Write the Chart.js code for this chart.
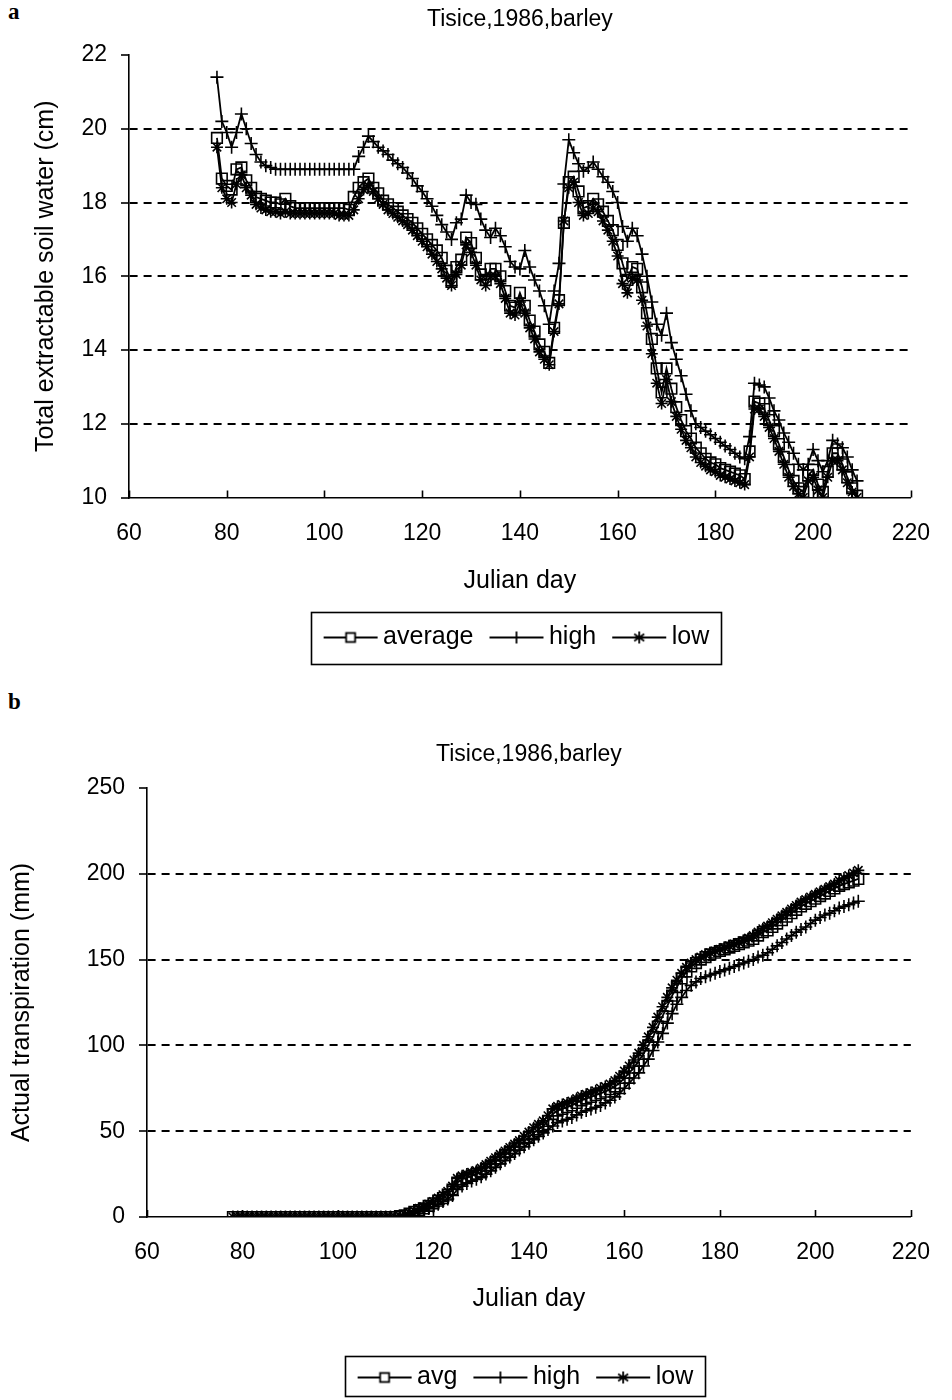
<!DOCTYPE html>
<html><head><meta charset="utf-8">
<script src="https://cdn.jsdelivr.net/npm/chart.js@4.4.0/dist/chart.umd.min.js"></script>
<style>
html,body{margin:0;padding:0;background:#fff;overflow:hidden;width:952px;height:1400px;}
#wrap{position:relative;width:952px;height:1400px;}
canvas{position:absolute;left:0;}
.panel{position:absolute;font-family:"Liberation Serif","DejaVu Serif",serif;font-weight:bold;font-size:23px;line-height:23px;color:#000;}
</style></head><body>
<div id="wrap">
<div class="panel" style="left:8px;top:0px">a</div>
<canvas id="ca" width="952" height="672" style="top:0px"></canvas>
<div class="panel" style="left:8px;top:690px">b</div>
<canvas id="cb" width="952" height="710" style="top:690px"></canvas>
</div>
<script>
const TITLE = 'Tisice,1986,barley';
const X_TITLE = 'Julian day';
const A_Y_TITLE = 'Total extractable soil water (cm)';
const B_Y_TITLE = 'Actual transpiration (mm)';
const A_LABELS = ['average', 'high', 'low'];
const B_LABELS = ['avg', 'high', 'low'];
const X_TICKS = [60, 80, 100, 120, 140, 160, 180, 200, 220];
const A_Y_TICKS = [10, 12, 14, 16, 18, 20, 22];
const B_Y_TICKS = [0, 50, 100, 150, 200, 250];

const DAYS = [78,79,80,81,82,83,84,85,86,87,88,89,90,91,92,93,94,95,96,97,98,99,100,101,102,103,104,105,106,107,
108,109,110,111,112,113,114,115,116,117,118,119,120,121,122,123,124,125,126,127,128,129,130,131,132,133,134,135,136,137,
138,139,140,141,142,143,144,145,146,147,148,149,150,151,152,153,154,155,156,157,158,159,160,161,162,163,164,165,166,167,
168,169,170,171,172,173,174,175,176,177,178,179,180,181,182,183,184,185,186,187,188,189,190,191,192,193,194,195,196,197,
198,199,200,201,202,203,204,205,206,207,208,209];

// Panel a: total extractable soil water (cm)
const A_AVG = [
19.75,18.65,18.45,18.35,18.9,18.95,18.6,18.4,18.15,18.1,
18.05,18.0,18.0,17.95,18.1,17.9,17.85,17.85,17.85,17.85,
17.85,17.85,17.85,17.85,17.85,17.85,17.85,17.8,18.15,18.4,
18.55,18.65,18.4,18.25,18.05,17.95,17.85,17.75,17.65,17.55,
17.45,17.3,17.15,17.0,16.85,16.7,16.5,16.15,15.85,16.25,
16.45,17.05,16.9,16.5,16.05,15.9,16.2,16.2,16.0,15.6,
15.2,15.15,15.55,15.2,14.8,14.5,14.15,13.95,13.65,14.6,
15.35,17.45,18.55,18.7,18.3,17.85,17.9,18.1,17.95,17.75,
17.5,17.25,16.85,16.35,15.9,16.25,16.2,15.7,15.0,14.3,
13.5,12.85,13.5,12.95,12.45,12.1,11.8,11.6,11.35,11.2,
11.05,10.95,10.9,10.8,10.75,10.7,10.65,10.6,10.5,11.25,
12.6,12.55,12.4,12.1,11.8,11.45,11.1,10.75,10.45,10.25,
10.15,10.6,10.75,10.35,10.15,10.7,11.2,11.2,10.9,10.55,
10.25,10.05];
const A_HIGH = [
21.4,20.2,19.9,19.5,19.9,20.4,20.0,19.6,19.3,19.1,
19.0,18.95,18.9,18.9,18.9,18.9,18.9,18.9,18.9,18.9,
18.9,18.9,18.9,18.9,18.9,18.9,18.9,18.9,18.9,19.25,
19.5,19.8,19.65,19.5,19.4,19.3,19.15,19.05,18.95,18.8,
18.65,18.45,18.3,18.1,17.9,17.65,17.4,17.2,17.0,17.45,
17.55,18.2,18.0,17.95,17.55,17.25,17.05,17.3,17.1,16.8,
16.4,16.25,16.2,16.7,16.25,15.9,15.6,15.2,14.7,15.6,
16.35,18.5,19.7,19.35,19.05,18.85,18.95,19.1,18.9,18.7,
18.55,18.3,18.0,17.35,16.95,17.3,17.1,16.6,16.0,15.3,
14.7,14.4,15.0,14.2,13.75,13.3,12.8,12.35,12.0,11.9,
11.8,11.7,11.6,11.5,11.4,11.3,11.2,11.1,11.05,11.65,
13.1,13.05,13.0,12.7,12.35,12.1,11.75,11.5,11.2,10.9,
10.75,10.9,11.3,11.0,10.7,11.0,11.55,11.45,11.35,11.1,
10.75,10.45];
const A_LOW = [
19.5,18.4,18.1,18.0,18.5,18.75,18.4,18.2,17.95,17.85,
17.8,17.75,17.75,17.7,17.75,17.7,17.7,17.7,17.7,17.7,
17.7,17.7,17.7,17.7,17.7,17.65,17.65,17.65,17.8,18.1,
18.35,18.45,18.3,18.1,17.95,17.8,17.7,17.6,17.5,17.4,
17.25,17.1,16.95,16.8,16.6,16.4,16.2,15.95,15.75,16.05,
16.3,16.85,16.65,16.3,15.9,15.75,16.0,16.0,15.8,15.4,
15.0,14.95,15.3,15.0,14.6,14.3,13.95,13.75,13.6,14.5,
15.25,17.5,18.4,18.55,18.0,17.65,17.7,17.85,17.75,17.5,
17.25,16.95,16.55,15.8,15.55,15.95,15.9,15.35,14.65,13.9,
13.1,12.55,13.2,12.6,12.2,11.85,11.55,11.35,11.1,10.95,
10.85,10.75,10.7,10.6,10.55,10.5,10.45,10.4,10.35,11.1,
12.4,12.4,12.2,11.9,11.6,11.25,10.9,10.55,10.3,10.1,
10.0,10.45,10.55,10.2,10.0,10.55,11.0,11.0,10.75,10.4,
10.15,10.0];

// Panel b: actual transpiration (mm)
const B_AVG = [
0,0,0,0,0,0,0,0,0,0,
0,0,0,0,0,0,0,0,0,0,
0,0,0,0,0,0,0,0,0,0,
0,0,0,0,0,0.5,1,2,3,4,
5,6.5,8,9.5,11,13,16,20,22,23,
24,25,26,28,30,32,34,36,38,40,
42,44,46.5,49,51,53,56,60,62,63,
64,65,66.5,68,69,70,71,72,73,74.5,
76,78,81,84,87,91,95,100,105,111,
117,123,129,134,139,143,146,148,150,151.5,
153,154,155,156,157,158,159,160,161,162,
164,166,167,169,171,173,175,177,179,181,
182.5,184,185.5,187,188.5,190,191.5,193,194,195,
196,197];
const B_HIGH = [
0,0,0,0,0,0,0,0,0,0,
0,0,0,0,0,0,0,0,0,0,
0,0,0,0,0,0,0,0,0,0,
0,0,0,0,0,0,0.5,1,2,3,
4,5,6,7.5,9,10.5,12.5,16,18,19.5,
21,22,23.5,25,27,29,31,33,35,37,
39,41,43,45,47,49,51,53,55,56,
57,58,59.5,61,62,63,64,65,66.5,68,
70,72,75,78,81,84,88,92,97,102,
107,113,118.5,124,128,132,135,137,139,140,
141,142,143,144,145,146,147,148,149,150,
151.5,152.5,154,156,158,160,162,164,166,167.5,
169,171,173,174.5,176,177,178.5,180,181,182,
183,184];
const B_LOW = [
0,0,0,0,0,0,0,0,0,0,
0,0,0,0,0,0,0,0,0,0,
0,0,0,0,0,0,0,0,0,0,
0,0,0,0,0,0.5,1.5,2.5,3.5,5,
6,7.5,9,11,13,15,18,22.5,24,25,
26,27,28.5,30.5,32.5,34.5,36.5,38.5,40.5,42.5,
44.5,47,49.5,52,54,56,59,63,64.5,65.5,
66.5,67.5,69,70.5,71.5,72.5,73.5,75,76,77.5,
79.5,82,85,88,91.5,95.5,100,105,110.5,116.5,
122.5,128,133.5,138,142,145.5,148,150,151.5,153,
154,155,156,157,158,159,160,161,162.5,164,
166,168,169.5,171.5,173.5,175.5,177.5,179.5,181.5,183.5,
185,186.5,188,189.5,191,192.5,194,196,197.5,199,
200.5,202];

const FONT = '"Liberation Sans", Arial, Helvetica, sans-serif';
Chart.defaults.font.family = FONT;
Chart.defaults.color = '#000';

const STYLES = ['rect', 'cross', 'star'];
const RADII = [7.5, 6.5, 6];

function legendIcon(style) {
  const c = document.createElement('canvas');
  c.width = 56; c.height = 18;
  const g = c.getContext('2d');
  g.strokeStyle = '#000'; g.lineWidth = 1.8;
  g.beginPath(); g.moveTo(1, 9); g.lineTo(55, 9); g.stroke();
  const cx = 28, cy = 9;
  g.beginPath();
  if (style === 'rect') {
    g.fillStyle = '#fff';
    g.fillRect(cx - 4.5, cy - 4.5, 9, 9);
    g.strokeRect(cx - 4.5, cy - 4.5, 9, 9);
  } else if (style === 'cross') {
    g.moveTo(cx, cy - 6); g.lineTo(cx, cy + 6); g.stroke();
  } else {
    g.moveTo(cx, cy - 6); g.lineTo(cx, cy + 6);
    g.moveTo(cx - 5, cy - 3.5); g.lineTo(cx + 5, cy + 3.5);
    g.moveTo(cx - 5, cy + 3.5); g.lineTo(cx + 5, cy - 3.5);
    g.stroke();
  }
  return c;
}
const ICONS = STYLES.map(legendIcon);

const upTicks = {
  id: 'upTicks',
  afterDraw(chart) {
    const sx = chart.scales.x, ctx = chart.ctx, b = chart.chartArea.bottom;
    ctx.save(); ctx.strokeStyle = '#000'; ctx.lineWidth = 1.6;
    X_TICKS.forEach(v => {
      const p = Math.round(sx.getPixelForValue(v)) + 0.5;
      ctx.beginPath(); ctx.moveTo(p, b); ctx.lineTo(p, b - 7); ctx.stroke();
    });
    ctx.restore();
  }
};

const legendFrame = {
  id: 'legendFrame',
  afterDraw(chart, args, opts) {
    const hb = chart.legend && chart.legend.legendHitBoxes;
    if (!hb || !hb.length) return;
    const first = hb[0], last = hb[hb.length - 1];
    const cy = first.top + first.height / 2;
    const l = first.left - 20, r = last.left + last.width + 11;
    const t = cy - opts.up, bt = cy + opts.down;
    const ctx = chart.ctx;
    ctx.save(); ctx.strokeStyle = '#000'; ctx.lineWidth = 1.6;
    ctx.strokeRect(Math.round(l) + 0.5, Math.round(t) + 0.5, Math.round(r - l), Math.round(bt - t));
    ctx.restore();
  }
};

function ds(label, values, i) {
  return {
    label: label,
    data: DAYS.map((d, k) => ({x: d, y: values[k]})),
    borderColor: '#000',
    borderWidth: 1.8,
    backgroundColor: 'rgba(0,0,0,0)',
    pointStyle: STYLES[i],
    pointRadius: RADII[i],
    pointBorderWidth: 1.6,
    pointBorderColor: '#000',
    pointBackgroundColor: 'rgba(0,0,0,0)',
    tension: 0,
    fill: false
  };
}

function build(id, o) {
  return new Chart(document.getElementById(id), {
    type: 'line',
    data: { datasets: [ds(o.labels[0], o.avg, 0), ds(o.labels[1], o.high, 1), ds(o.labels[2], o.low, 2)] },
    options: {
      responsive: false, animation: false, devicePixelRatio: 1,
      events: [],
      layout: { padding: { left: 0, right: 30, top: 0, bottom: o.padBottom } },
      plugins: {
        title: { display: true, text: TITLE, fullSize: false, color: '#000',
                 font: { family: FONT, size: 23, weight: 'normal' },
                 padding: { top: o.tTop, bottom: o.tBottom } },
        legend: { position: 'bottom', fullSize: false,
                  labels: { usePointStyle: true, pointStyleWidth: 40, padding: 23, color: '#000',
                            font: { family: FONT, size: 25 },
                            generateLabels: chart => chart.data.datasets.map((d, i) => ({
                              text: d.label, pointStyle: ICONS[i], fillStyle: '#000', strokeStyle: '#000',
                              lineWidth: 0, hidden: false, datasetIndex: i, fontColor: '#000' })) } },
        tooltip: { enabled: false },
        legendFrame: { up: o.fUp, down: o.fDown }
      },
      scales: {
        x: {
          type: 'linear', min: 60, max: 220,
          afterBuildTicks: s => { s.ticks = X_TICKS.map(v => ({ value: v })); },
          afterFit: s => { s.height = o.xH; },
          grid: { display: true, drawOnChartArea: false, drawTicks: false },
          border: { display: true, color: '#000', width: 1.6 },
          ticks: { padding: 22, color: '#000', font: { size: 23 }, maxRotation: 0, autoSkip: false },
          title: { display: true, text: X_TITLE, color: '#000', font: { size: 25 },
                   padding: { top: 0, bottom: o.xTitlePad } }
        },
        y: {
          type: 'linear', min: o.yMin, max: o.yMax,
          afterBuildTicks: s => { s.ticks = o.yTicks.map(v => ({ value: v })); },
          afterFit: s => { s.width = o.yW; },
          grid: {
            color: c => (c.tick && (c.tick.value === o.yMin || c.tick.value === o.yMax)) ? 'rgba(0,0,0,0)' : '#000',
            lineWidth: 2, tickLength: 8, tickColor: '#000', tickWidth: 1.6, tickBorderDash: []
          },
          border: { display: true, color: '#000', width: 1.6, dash: [8, 6] },
          ticks: { padding: 14, color: '#000', font: { size: 23 } },
          title: { display: true, text: o.yTitle, color: '#000', font: { size: 25 },
                   padding: { top: o.yTitlePad, bottom: 0 } }
        }
      }
    },
    plugins: [upTicks, legendFrame]
  });
}

build('ca', {
  labels: A_LABELS, avg: A_AVG, high: A_HIGH, low: A_LOW,
  yMin: 10, yMax: 22, yTicks: A_Y_TICKS, yTitle: A_Y_TITLE,
  tTop: 6.2, tBottom: 21.2, xH: 104.5, xTitlePad: 5.5, yW: 129, yTitlePad: 31,
  padBottom: 12, fUp: 26, fDown: 26
});
build('cb', {
  labels: B_LABELS, avg: B_AVG, high: B_HIGH, low: B_LOW,
  yMin: 0, yMax: 250, yTicks: B_Y_TICKS, yTitle: B_Y_TITLE,
  tTop: 51.2, tBottom: 19.2, xH: 125, xTitlePad: 28, yW: 147, yTitlePad: 7,
  padBottom: 0, fUp: 22, fDown: 18
});
</script>
</body></html>
